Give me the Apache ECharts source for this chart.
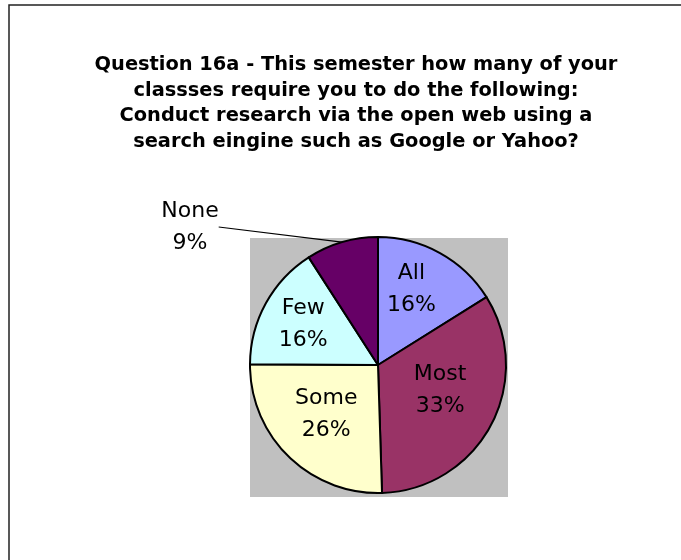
<!DOCTYPE html>
<html>
<head>
<meta charset="utf-8">
<script src="https://cdn.jsdelivr.net/npm/echarts@6/dist/echarts.min.js"></script>
<style>
html,body{margin:0;padding:0;background:#fff;}
#chart{width:681px;height:560px;}
</style>
</head>
<body>
<div id="chart"></div>
<script>
const categories = ['All', 'Most', 'Some', 'Few', 'None'];
const values = [16.1, 33.4, 25.6, 15.8, 9.1];
const titleLines = [
  'Question 16a - This semester how many of your',
  'classses require you to do the following:',
  'Conduct research via the open web using a',
  'search eingine such as Google or Yahoo?'
];

const sliceColors = ['#9999FF', '#993366', '#FFFFCC', '#CCFFFF', '#660066'];
const labelShift = [[1, -17], [3, -6], [-5, 1], [-16, -8]];

const chart = echarts.init(document.getElementById('chart'), null, {renderer: 'canvas'});

const data = categories.map((name, i) => {
  const item = {name: name, value: values[i], itemStyle: {color: sliceColors[i]}};
  if (name === 'None') {
    item.label = {position: 'outside', show: true};
    item.labelLine = {show: true, length: 5, length2: 0, smooth: false, lineStyle: {color: '#000', width: 1.2}};
  }
  return item;
});

chart.setOption({
  animation: false,
  backgroundColor: '#ffffff',
  title: {
    text: titleLines.join('\n'),
    left: 351,
    top: 47,
    textAlign: 'center',
    textStyle: {
      fontFamily: 'DejaVu Sans',
      fontWeight: 'bold',
      fontSize: 19.4,
      lineHeight: 25.7,
      color: '#000'
    }
  },
  graphic: [
    {type: 'rect', z: -10, silent: true,
     shape: {x: 9, y: 5, width: 700, height: 600},
     style: {fill: '#fff', stroke: '#222', lineWidth: 1.5}},
    {type: 'rect', z: -5, silent: true,
     shape: {x: 250, y: 238, width: 258, height: 259},
     style: {fill: '#C0C0C0'}}
  ],
  series: [{
    type: 'pie',
    center: [378, 365],
    radius: [0, 128],
    startAngle: 90,
    clockwise: true,
    percentPrecision: 0,
    avoidLabelOverlap: false,
    emphasis: {disabled: true},
    itemStyle: {borderColor: '#000', borderWidth: 2},
    label: {
      show: true,
      position: 'inside',
      formatter: '{b}\n{d}%',
      fontFamily: 'DejaVu Sans',
      fontSize: 22,
      lineHeight: 32,
      color: '#000',
      align: 'center'
    },
    labelLine: {show: false},
    labelLayout: function (p) {
      if (p.dataIndex === 4) {
        return {x: 190, y: 227, align: 'center', verticalAlign: 'middle'};
      }
      const s = labelShift[p.dataIndex];
      return {dx: s[0], dy: s[1]};
    },
    data: data
  }]
});
</script>
</body>
</html>
